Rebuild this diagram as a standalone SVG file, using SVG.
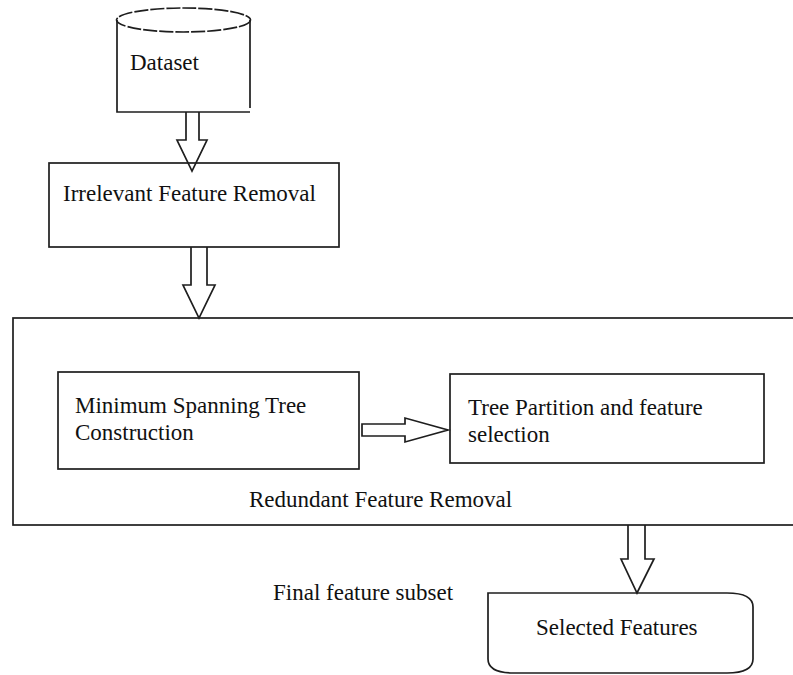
<svg xmlns="http://www.w3.org/2000/svg" width="793" height="675" viewBox="0 0 793 675">
<style>
.s{fill:none;stroke:#1e1e1e;stroke-width:1.7}
.t{font-family:"Liberation Serif","Times New Roman",serif;font-size:23px;fill:#111}
</style>
<rect width="793" height="675" fill="#fff"/>
<g id="dataset">
<path class="s" d="M117,20 V112 H250 M250,20 V108"/>
<ellipse class="s" cx="183.5" cy="20" rx="67" ry="12" stroke-dasharray="14 2"/>
<text class="t" x="130" y="70">Dataset</text>
</g>
<g id="irrelevant">
<rect class="s" x="49" y="163" width="290" height="84"/>
<text class="t" x="63" y="201">Irrelevant Feature Removal</text>
</g>
<g id="redundant">
<rect class="s" x="13" y="318" width="800" height="207"/>
<text class="t" x="249" y="507">Redundant Feature Removal</text>
</g>
<g id="mst">
<rect class="s" x="58" y="372" width="301" height="97"/>
<text class="t" x="75" y="413">Minimum Spanning Tree</text>
<text class="t" x="75" y="440">Construction</text>
</g>
<g id="partition">
<rect class="s" x="450" y="374" width="314" height="89"/>
<text class="t" x="468" y="415">Tree Partition and feature</text>
<text class="t" x="468" y="442">selection</text>
</g>
<g id="selected">
<path class="s" d="M488,593 H727 Q753,593 753,607 V659 Q753,673 727,673 H514 Q488,673 488,659 Z"/>
<text class="t" x="536" y="635">Selected Features</text>
</g>
<g id="final">
<text class="t" x="273" y="600">Final feature subset</text>
</g>
<g id="connectors">
<path class="s" d="M186,112 V140 H177 L192,171 L207,140 H199 V112"/>
<path class="s" d="M191,247 V285 H183 L199,318 L215,285 H207 V247"/>
<path class="s" d="M628,525 V559 H621 L637,593 L654,559 H645 V525"/>
<path class="s" d="M362,424 H405 V418 L448,430 L405,442 V436 H362 Z"/>
</g>
</svg>
